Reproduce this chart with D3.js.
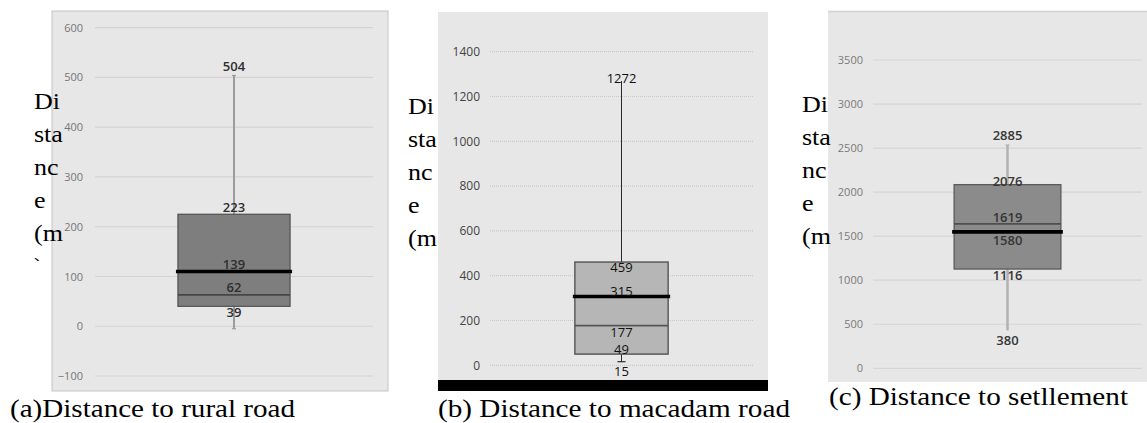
<!DOCTYPE html>
<html>
<head>
<meta charset="utf-8">
<script src="https://cdn.jsdelivr.net/npm/d3@7"></script>
<style>
  html, body { margin: 0; padding: 0; background: #fff; }
  svg { display: block; }
  .serif { font-family: "Liberation Serif", "Times New Roman", Tinos, Times, serif; }
  .sans { font-family: "Open Sans", "Liberation Sans", Arial, sans-serif; }
</style>
</head>
<body>
<div id="chart"></div>
<script>
// values
const captions = ['(a)Distance to rural road', '(b) Distance to macadam road', '(c) Distance to setllement'];
const tickSets = [
  [-100, 0, 100, 200, 300, 400, 500, 600],
  [0, 200, 400, 600, 800, 1000, 1200, 1400],
  [0, 500, 1000, 1500, 2000, 2500, 3000, 3500]
];
const whiskerHigh = [504, 1269, 2535];
const boxTop = [225, 461, 2085];
const thickLine = [110, 307, 1549];
const thinLine = [63, 177, 1640];
const boxBottom = [40, 50, 1127];
const whiskerLow = [-5, 16, 430];
const labelsA = ['504', '223', '139', '62', '39'];
const labelsB = ['1272', '459', '315', '177', '49', '15'];
const labelsC = ['2885', '2076', '1619', '1580', '1116', '380'];
const titleLines = ['Di', 'sta', 'nc', 'e', '(m', ')'];

const labelSets = [labelsA, labelsB, labelsC];

// per panel layout
const layout = [
  {
    bg: [52, 388, 11, 391], border: '#c4c4c4', yRange: [376, 27.7], tickX: 83, gridX: [95, 373], pad: 0.74,
    titleX: 34, titleBase: 109, titleClip: 261, capX: 10, capY: 417, capW: 285,
    boxFill: '#7e7e7e', boxStroke: '#575757', thinColor: '#464646', whisker: '#9c9c9c', whiskerW: 2, cap: 4, capEnds: ['high', 'low'],
    gridColor: '#d3d3d3', gridDash: null, tickColor: '#767676', tickSize: 11, labelColor: '#2e2e2e', labelWeight: 600,
    anchors: [['high', -9], ['top', -7], ['thick', -8], ['thin', -8], ['bottom', 5.5]]
  },
  {
    bg: [438, 768, 12, 380], border: null, bar: [380, 391], yRange: [365.3, 51.7], tickX: 480, gridX: [490, 753], pad: 0.91,
    titleX: 408, titleBase: 114, titleClip: 252, capX: 438, capY: 417, capW: 352,
    boxFill: '#b6b6b6', boxStroke: '#4a4a4a', thinColor: '#555', whisker: '#2a2a2a', whiskerW: 1, cap: 8, capEnds: ['low'],
    gridColor: '#c9c9c9', gridDash: '1,1', tickColor: '#444', tickSize: 12, labelColor: '#111', labelWeight: 400,
    anchors: [['high', -3], ['top', 5.4], ['thick', -6], ['thin', 6.5], ['bottom', -5], ['low', 9]]
  },
  {
    bg: [828, 1147, 11, 382], border: null, topLine: '#d0d0d0', yRange: [368.3, 60], tickX: 863, gridX: [873, 1142], pad: 0.76,
    titleX: 802, titleBase: 112, titleClip: 252, capX: 829, capY: 405, capW: 299,
    boxFill: '#8b8b8b', boxStroke: '#5a5a5a', thinColor: '#4e4e4e', whisker: '#b2b2b2', whiskerW: 2.5, cap: 4, capEnds: ['high'],
    gridColor: '#d5d5d5', gridDash: null, tickColor: '#7a7a7a', tickSize: 11, labelColor: '#363636', labelWeight: 600,
    anchors: [['high', -10], ['top', -4], ['thin', -7], ['thick', 7.7], ['bottom', 6], ['low', 9.5]]
  }
];

const width = 1147;
const height = 423;
const titleFont = 23;
const titleDiWidth = 26; // width of "Di" in the reference

const svg = d3.select('#chart').append('svg')
  .attr('width', width)
  .attr('height', height);

const defs = svg.append('defs');

// the original is stretched sideways; measure the installed serif to match it
const probe = svg.append('text').attr('class', 'serif').attr('font-size', titleFont).text('Di');
const titleScale = titleDiWidth / probe.node().getComputedTextLength();
probe.remove();

layout.forEach((L, i) => {
  const g = svg.append('g').attr('class', `panel panel-${i}`);
  const [bx0, bx1, by0, by1] = L.bg;

  const y = d3.scaleLinear()
    .domain(d3.extent(tickSets[i]))
    .range(L.yRange);
  const x = d3.scaleBand()
    .domain([captions[i]])
    .range(L.gridX)
    .paddingInner(0)
    .paddingOuter(L.pad);

  g.append('rect')
    .attr('x', bx0).attr('y', by0)
    .attr('width', bx1 - bx0).attr('height', by1 - by0)
    .attr('fill', '#e7e7e7')
    .attr('stroke', L.border || 'none')
    .attr('stroke-width', 1);

  if (L.topLine) {
    g.append('line')
      .attr('x1', bx0).attr('x2', bx1)
      .attr('y1', by0 + 0.5).attr('y2', by0 + 0.5)
      .attr('stroke', L.topLine).attr('stroke-width', 1.5);
  }
  if (L.bar) {
    g.append('rect')
      .attr('x', bx0).attr('y', L.bar[0])
      .attr('width', bx1 - bx0).attr('height', L.bar[1] - L.bar[0])
      .attr('fill', '#000');
  }

  // gridlines
  g.append('g').selectAll('line')
    .data(tickSets[i])
    .join('line')
    .attr('x1', L.gridX[0]).attr('x2', L.gridX[1])
    .attr('y1', d => y(d)).attr('y2', d => y(d))
    .attr('stroke', L.gridColor)
    .attr('stroke-width', 1.2)
    .attr('stroke-dasharray', L.gridDash);

  // tick labels
  const axis = g.append('g')
    .attr('transform', `translate(${L.tickX},0)`)
    .call(d3.axisLeft(y).tickValues(tickSets[i]).tickSize(0).tickPadding(0).tickFormat(d3.format('d')));
  axis.select('.domain').remove();
  axis.attr('font-family', null).attr('font-size', null);
  axis.selectAll('text')
    .attr('class', 'sans')
    .attr('font-size', L.tickSize)
    .attr('fill', L.tickColor);

  // box plot
  const cx = x(captions[i]) + x.bandwidth() / 2;
  const bw = x.bandwidth();
  const stat = {
    high: whiskerHigh[i], top: boxTop[i], thick: thickLine[i],
    thin: thinLine[i], bottom: boxBottom[i], low: whiskerLow[i]
  };

  g.append('line')
    .attr('x1', cx).attr('x2', cx)
    .attr('y1', y(stat.high)).attr('y2', y(stat.low))
    .attr('stroke', L.whisker).attr('stroke-width', L.whiskerW);
  g.append('g').selectAll('line')
    .data(L.capEnds.map(k => stat[k]))
    .join('line')
    .attr('x1', cx - L.cap / 2).attr('x2', cx + L.cap / 2)
    .attr('y1', d => y(d)).attr('y2', d => y(d))
    .attr('stroke', L.whisker).attr('stroke-width', 1.2);

  g.append('rect')
    .attr('x', x(captions[i])).attr('y', y(stat.top))
    .attr('width', bw).attr('height', y(stat.bottom) - y(stat.top))
    .attr('fill', L.boxFill)
    .attr('stroke', L.boxStroke).attr('stroke-width', 1.3);

  g.append('line')
    .attr('x1', x(captions[i])).attr('x2', x(captions[i]) + bw)
    .attr('y1', y(stat.thin)).attr('y2', y(stat.thin))
    .attr('stroke', L.thinColor).attr('stroke-width', 1.8);

  g.append('line')
    .attr('x1', x(captions[i]) - 2).attr('x2', x(captions[i]) + bw + 2)
    .attr('y1', y(stat.thick)).attr('y2', y(stat.thick))
    .attr('stroke', '#000').attr('stroke-width', 3.6);

  // value labels
  g.append('g').selectAll('text')
    .data(labelSets[i].map((t, k) => ({ t, a: L.anchors[k] })))
    .join('text')
    .attr('class', 'sans')
    .attr('x', cx)
    .attr('y', d => y(stat[d.a[0]]) + d.a[1])
    .attr('text-anchor', 'middle')
    .attr('dominant-baseline', 'central')
    .attr('font-size', 13)
    .attr('font-weight', L.labelWeight)
    .attr('fill', L.labelColor)
    .text(d => d.t);

  // stacked axis title, clipped like the original text box
  const clipId = `title-clip-${i}`;
  defs.append('clipPath').attr('id', clipId)
    .append('rect')
    .attr('x', L.titleX - 10).attr('y', 0)
    .attr('width', 80).attr('height', L.titleClip);
  g.append('g')
    .attr('clip-path', `url(#${clipId})`)
    .selectAll('text')
    .data(titleLines)
    .join('text')
    .attr('class', 'serif')
    .attr('transform', (d, k) => `translate(${L.titleX},${L.titleBase + k * 33}) scale(${titleScale},1)`)
    .attr('font-size', titleFont)
    .attr('fill', '#000')
    .text(d => d);

  // caption
  g.append('text')
    .attr('class', 'serif')
    .attr('x', L.capX)
    .attr('y', L.capY)
    .attr('font-size', 25)
    .attr('textLength', L.capW)
    .attr('lengthAdjust', 'spacingAndGlyphs')
    .attr('fill', '#000')
    .text(captions[i]);
});
</script>
</body>
</html>
